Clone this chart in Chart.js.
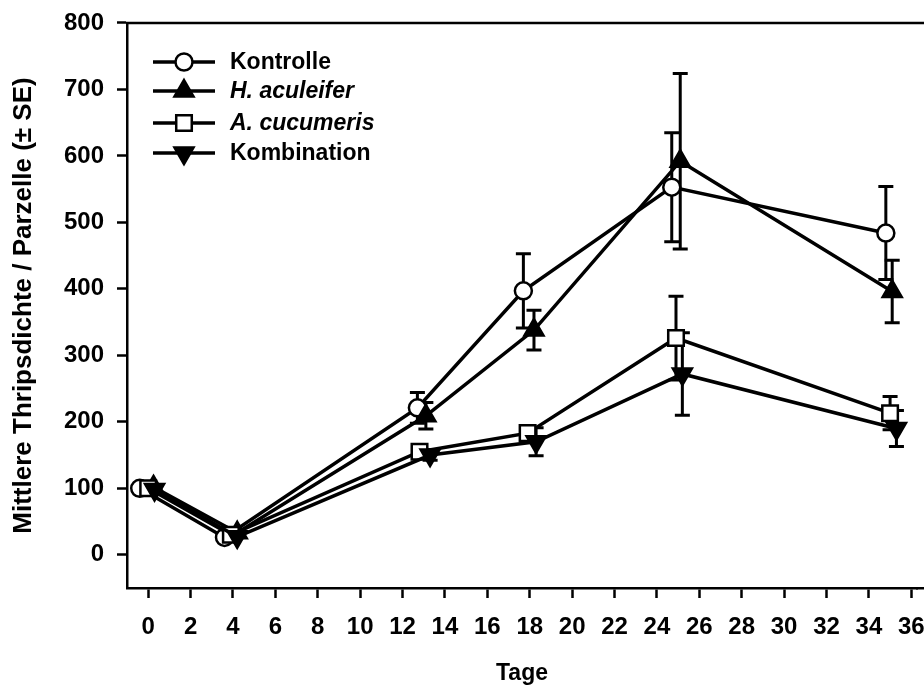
<!DOCTYPE html>
<html>
<head>
<meta charset="utf-8">
<script src="https://cdn.jsdelivr.net/npm/chart.js@4"></script>
<style>
  html, body { margin: 0; padding: 0; background: #fff; overflow: hidden; }
  #wrap { width: 960px; height: 689px; position: relative; }
</style>
</head>
<body>
<div id="wrap"><canvas id="c" width="960" height="689"></canvas></div>
<script>
// Days after release (each series slightly shifted so markers stay apart)
const tageKontrolle   = [-0.4, 3.6, 12.7, 17.7, 24.7, 34.8];
const tageAculeifer   = [0.25, 4.2, 13.1, 18.2, 25.1, 35.1];
const tageCucumeris   = [0.0, 3.9, 12.8, 17.9, 24.9, 35.0];
const tageKombination = [0.3, 4.2, 13.3, 18.3, 25.2, 35.3];

// Mean thrips per plot
const kontrolle   = [100, 26, 221, 397, 553, 484];
const aculeifer   = [102, 33, 209, 338, 592, 396];
const cucumeris   = [100, 30, 155, 183, 326, 213];
const kombination = [98, 27, 150, 170, 272, 190];

// Standard errors
const kontrolleSE   = [0, 0, 23, 56, 82, 70];
const aculeiferSE   = [0, 0, 20, 30, 132, 47];
const cucumerisSE   = [0, 0, 8, 10, 63, 25];
const kombinationSE = [0, 0, 8, 21, 62, 27];

const seriesNames = ['Kontrolle', 'H. aculeifer', 'A. cucumeris', 'Kombination'];
const italicNames = [false, true, true, false];

const xTicks = [0, 2, 4, 6, 8, 10, 12, 14, 16, 18, 20, 22, 24, 26, 28, 30, 32, 34, 36];
const yTicks = [0, 100, 200, 300, 400, 500, 600, 700, 800];

const FONT = '"Liberation Sans", Arial, sans-serif';

function pts(xs, ys) { return xs.map((x, i) => ({ x: x, y: ys[i] })); }

const styles = [
  { pointStyle: 'circle',   pointRadius: 8.5, bg: '#ffffff', rotation: 0 },
  { pointStyle: 'triangle', pointRadius: 11,  bg: '#000000', rotation: 0 },
  { pointStyle: 'rect',     pointRadius: 11,  bg: '#ffffff', rotation: 0 },
  { pointStyle: 'triangle', pointRadius: 11,  bg: '#000000', rotation: 180 }
];
const seriesData = [
  pts(tageKontrolle, kontrolle),
  pts(tageAculeifer, aculeifer),
  pts(tageCucumeris, cucumeris),
  pts(tageKombination, kombination)
];
const seriesSE = [kontrolleSE, aculeiferSE, cucumerisSE, kombinationSE];

const datasets = seriesNames.map((name, i) => ({
  label: name,
  data: seriesData[i],
  se: seriesSE[i],
  borderColor: '#000',
  borderWidth: 3.5,
  backgroundColor: styles[i].bg,
  pointStyle: styles[i].pointStyle,
  pointRadius: styles[i].pointRadius,
  pointRotation: styles[i].rotation,
  pointBackgroundColor: styles[i].bg,
  pointBorderColor: '#000',
  pointBorderWidth: 2.5,
  tension: 0,
  order: seriesNames.length - 1 - i
}));

// Vertical error bars with caps, drawn underneath the lines and markers
const errorBars = {
  id: 'errorBars',
  beforeDatasetsDraw(chart) {
    const { ctx, scales: { x, y } } = chart;
    ctx.save();
    ctx.strokeStyle = '#000';
    ctx.lineWidth = 3;
    chart.data.datasets.forEach(ds => {
      ds.data.forEach((p, i) => {
        const se = ds.se[i];
        if (!se) return;
        const px = x.getPixelForValue(p.x);
        const yt = y.getPixelForValue(p.y + se);
        const yb = y.getPixelForValue(p.y - se);
        ctx.beginPath();
        ctx.moveTo(px, yt); ctx.lineTo(px, yb);
        ctx.moveTo(px - 7.5, yt); ctx.lineTo(px + 7.5, yt);
        ctx.moveTo(px - 7.5, yb); ctx.lineTo(px + 7.5, yb);
        ctx.stroke();
      });
    });
    ctx.restore();
  }
};

// Frame lines running out to the right edge, plus the legend in the upper left
const frameAndLegend = {
  id: 'frameAndLegend',
  afterDraw(chart) {
    const { ctx, chartArea: a, width } = chart;
    ctx.save();
    ctx.strokeStyle = '#000';
    ctx.lineWidth = 2.5;
    ctx.beginPath();
    ctx.moveTo(a.left - 1, a.top);
    ctx.lineTo(width, a.top);
    ctx.moveTo(a.right - 1, a.bottom + 0.25);
    ctx.lineTo(width, a.bottom + 0.25);
    ctx.stroke();

    const x0 = 153, x1 = 215, xm = 184, xt = 230;
    const rows = [62, 91, 123, 153];
    chart.data.datasets.forEach((ds, i) => {
      const yy = rows[i];
      ctx.lineWidth = 3.5;
      ctx.beginPath();
      ctx.moveTo(x0, yy); ctx.lineTo(x1, yy);
      ctx.stroke();
      ctx.lineWidth = 2.5;
      ctx.fillStyle = ds.pointBackgroundColor;
      ctx.strokeStyle = '#000';
      Chart.helpers.drawPoint(ctx, {
        pointStyle: ds.pointStyle,
        rotation: ds.pointRotation,
        radius: ds.pointRadius,
        borderWidth: 2.5
      }, xm, yy);
      ctx.fillStyle = '#000';
      ctx.font = (italicNames[i] ? 'italic ' : '') + 'bold 23px ' + FONT;
      ctx.textBaseline = 'middle';
      ctx.textAlign = 'left';
      ctx.fillText(seriesNames[i], xt, yy + 1);
    });
    ctx.restore();
  }
};

new Chart(document.getElementById('c'), {
  type: 'line',
  data: { datasets },
  options: {
    responsive: false,
    animation: false,
    events: [],
    layout: { padding: { left: 0, right: 43, top: 10, bottom: 0 } },
    plugins: { legend: { display: false }, tooltip: { enabled: false } },
    scales: {
      x: {
        type: 'linear',
        min: -1,
        max: 36.27,
        afterBuildTicks(scale) { scale.ticks = xTicks.map(v => ({ value: v })); },
        afterFit(scale) { scale.height = 101; },
        ticks: {
          color: '#000',
          font: { family: FONT, size: 24, weight: 'bold' },
          padding: 15,
          maxRotation: 0,
          autoSkip: false
        },
        grid: {
          drawOnChartArea: false,
          drawTicks: true,
          tickLength: 10,
          tickWidth: 2.5,
          tickColor: '#000'
        },
        border: { display: true, color: '#000', width: 2.5 },
        title: {
          display: true,
          text: 'Tage',
          color: '#000',
          font: { family: FONT, size: 23, weight: 'bold' },
          padding: { top: 0, bottom: 2 }
        }
      },
      y: {
        type: 'linear',
        min: -50,
        max: 800,
        afterBuildTicks(scale) { scale.ticks = yTicks.map(v => ({ value: v })); },
        afterFit(scale) { scale.width = 127; },
        ticks: {
          color: '#000',
          font: { family: FONT, size: 24, weight: 'bold', lineHeight: 0.83 },
          padding: 13
        },
        grid: {
          drawOnChartArea: false,
          drawTicks: true,
          tickLength: 10,
          tickWidth: 2.5,
          tickColor: '#000'
        },
        border: { display: true, color: '#000', width: 2.5 },
        title: {
          display: true,
          text: 'Mittlere Thripsdichte / Parzelle (± SE)',
          color: '#000',
          font: { family: FONT, size: 26, weight: 'bold' },
          padding: { top: 8, bottom: 0 }
        }
      }
    }
  },
  plugins: [errorBars, frameAndLegend]
});
</script>
</body>
</html>
